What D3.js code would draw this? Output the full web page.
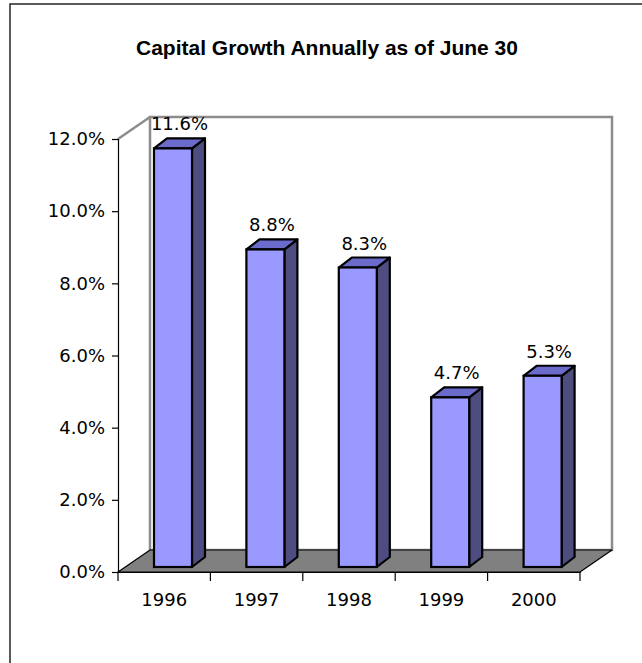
<!DOCTYPE html>
<html>
<head>
<meta charset="utf-8">
<script src="https://cdn.jsdelivr.net/npm/d3@7"></script>
<style>
  html, body { margin: 0; padding: 0; background: #fff; }
  svg { display: block; }
</style>
</head>
<body>
<svg id="chart" width="642" height="663"></svg>
<script>
// Chart data
const years = ["1996", "1997", "1998", "1999", "2000"];
const growth = [0.116, 0.088, 0.083, 0.047, 0.053];
const valueLabels = ["11.6%", "8.8%", "8.3%", "4.7%", "5.3%"];
const yTicks = [0, 0.02, 0.04, 0.06, 0.08, 0.10, 0.12];
const titleText = "Capital Growth Annually as of June 30";

(function draw() {
  const svg = d3.select("#chart");
  const W = 642, H = 663;
  const labelFont = "DejaVu Sans, Verdana, sans-serif";
  const labelSize = 18;

  // Plot box (front plane) and 3D depth
  const plotLeft = 118, plotRight = 580, plotBottom = 572, plotTop = 139;
  const depth = { dx: 32, dy: -22 };     // back wall offset
  const barFront = { dx: 7, dy: -5 };    // bar front plane offset from the axis plane
  const barDepth = { dx: 13, dy: -10 };  // bar thickness
  const barWidth = 38;

  const x = d3.scaleBand().domain(years).range([plotLeft, plotRight]).padding(0);
  const y = d3.scaleLinear().domain([0, 0.12]).range([plotBottom, plotTop]);

  // Outer frame
  svg.append("rect")
    .attr("x", 10).attr("y", 4)
    .attr("width", W + 20).attr("height", H + 20)
    .attr("fill", "#fff")
    .attr("stroke", "#333").attr("stroke-width", 1.6);

  // Title
  svg.append("text")
    .attr("x", 327).attr("y", 55)
    .attr("text-anchor", "middle")
    .attr("font-family", "Liberation Sans, Arial, sans-serif")
    .attr("font-weight", "bold")
    .attr("font-size", 21)
    .attr("fill", "#000")
    .text(titleText);

  const wallStroke = "#8c8c8c";
  const y0 = y(0), y12 = y(0.12);

  // Left wall
  svg.append("path")
    .attr("d", `M${plotLeft},${y0} L${plotLeft},${y12} L${plotLeft + depth.dx},${y12 + depth.dy} L${plotLeft + depth.dx},${y0 + depth.dy} Z`)
    .attr("fill", "#fff").attr("stroke", "none");
  svg.append("line")
    .attr("x1", plotLeft).attr("y1", y12)
    .attr("x2", plotLeft + depth.dx).attr("y2", y12 + depth.dy)
    .attr("stroke", wallStroke).attr("stroke-width", 2.5);

  // Back wall
  svg.append("rect")
    .attr("x", plotLeft + depth.dx).attr("y", y12 + depth.dy)
    .attr("width", plotRight - plotLeft).attr("height", y0 - y12)
    .attr("fill", "#fff")
    .attr("stroke", wallStroke).attr("stroke-width", 2.5);

  // Floor
  svg.append("path")
    .attr("d", `M${plotLeft},${y0} L${plotLeft + depth.dx},${y0 + depth.dy} L${plotRight + depth.dx},${y0 + depth.dy} L${plotRight},${y0} Z`)
    .attr("fill", "#808080")
    .attr("stroke", "#000").attr("stroke-width", 1.2)
    .attr("stroke-linejoin", "round");

  // Bars
  const bars = svg.append("g").attr("class", "bars");
  years.forEach((yr, i) => {
    const v = growth[i];
    const bx = x(yr) + 29 + barFront.dx;
    const by0 = y(0) + barFront.dy;
    const byT = y(v) + barFront.dy;
    const g = bars.append("g");
    // side face
    g.append("path")
      .attr("d", `M${bx + barWidth},${by0} L${bx + barWidth + barDepth.dx},${by0 + barDepth.dy} L${bx + barWidth + barDepth.dx},${byT + barDepth.dy} L${bx + barWidth},${byT} Z`)
      .attr("fill", "#4d4d80").attr("stroke", "#000").attr("stroke-width", 2.2).attr("stroke-linejoin", "round");
    // top face
    g.append("path")
      .attr("d", `M${bx},${byT} L${bx + barDepth.dx},${byT + barDepth.dy} L${bx + barWidth + barDepth.dx},${byT + barDepth.dy} L${bx + barWidth},${byT} Z`)
      .attr("fill", "#6b6bcc").attr("stroke", "#000").attr("stroke-width", 2.2).attr("stroke-linejoin", "round");
    // front face
    g.append("rect")
      .attr("x", bx).attr("y", byT)
      .attr("width", barWidth).attr("height", by0 - byT)
      .attr("fill", "#9999ff").attr("stroke", "#000").attr("stroke-width", 2.2);
    // value label
    g.append("text")
      .attr("x", bx + (barWidth + barDepth.dx) / 2)
      .attr("y", byT - 18)
      .attr("text-anchor", "middle")
      .attr("font-family", labelFont)
      .attr("font-size", labelSize)
      .attr("fill", "#000")
      .text(valueLabels[i]);
  });

  // Y axis
  const yAxis = d3.axisLeft(y)
    .tickValues(yTicks)
    .tickSize(6)
    .tickPadding(7)
    .tickFormat(d3.format(".1%"));
  const gy = svg.append("g").attr("transform", `translate(${plotLeft},0)`).call(yAxis);
  gy.select(".domain").attr("stroke", "#000").attr("stroke-width", 1.2);
  gy.selectAll(".tick line").attr("stroke", "#000").attr("stroke-width", 1.2);
  gy.selectAll(".tick text")
    .attr("font-family", labelFont)
    .attr("font-size", labelSize)
    .attr("fill", "#000");

  // X axis
  const xAxis = d3.axisBottom(x).tickSize(0).tickPadding(21);
  const gx = svg.append("g").attr("transform", `translate(0,${plotBottom})`).call(xAxis);
  gx.select(".domain").attr("stroke", "#000").attr("stroke-width", 1.2);
  gx.selectAll(".tick text")
    .attr("font-family", labelFont)
    .attr("font-size", labelSize)
    .attr("fill", "#000");
  // category separators below the axis
  const edges = years.map(d => x(d)).concat([plotRight]);
  gx.selectAll(".sep").data(edges).join("line")
    .attr("class", "sep")
    .attr("x1", d => d).attr("x2", d => d)
    .attr("y1", 0).attr("y2", 9)
    .attr("stroke", "#000").attr("stroke-width", 1.2);
})();
</script>
</body>
</html>
